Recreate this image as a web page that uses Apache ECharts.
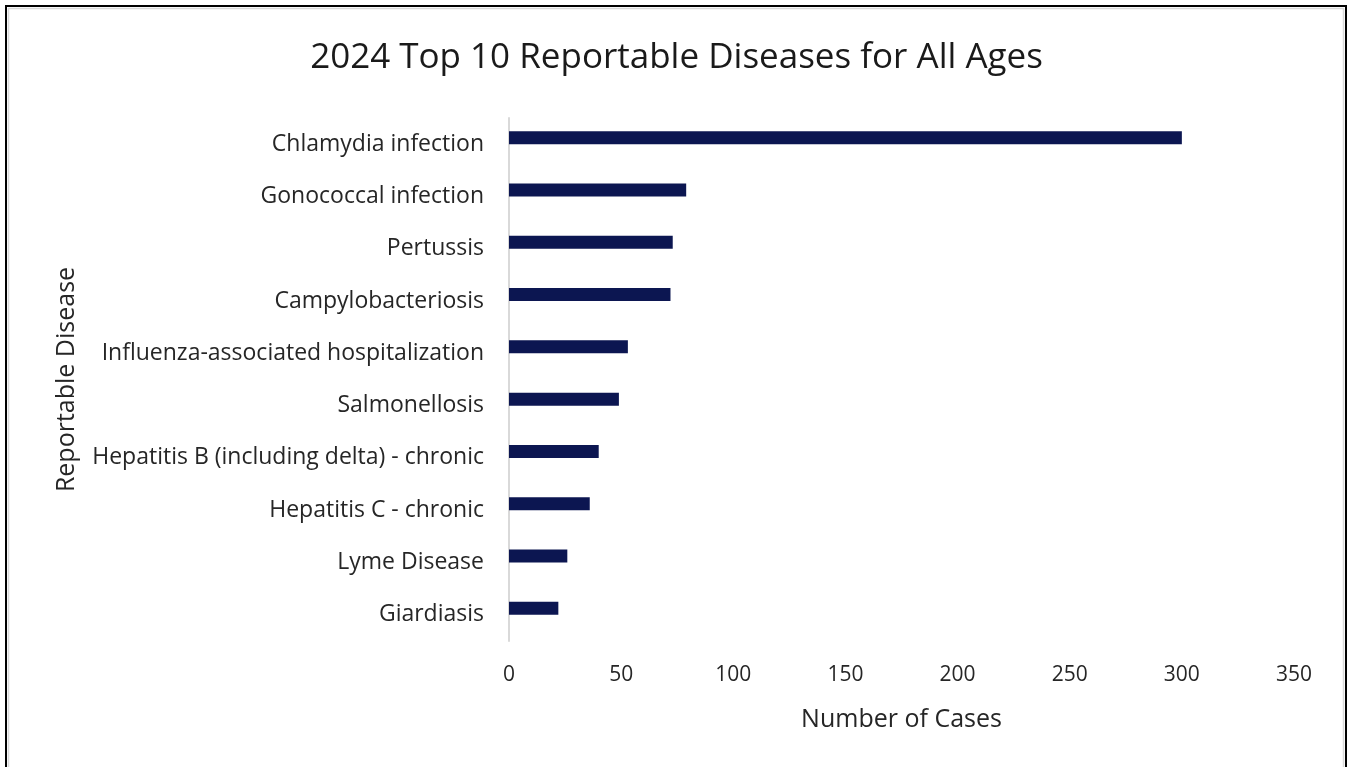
<!DOCTYPE html>
<html>
<head>
<meta charset="utf-8">
<title>2024 Top 10 Reportable Diseases</title>
<script src="https://cdn.jsdelivr.net/npm/echarts@6/dist/echarts.min.js"></script>
<style>
  html, body { margin: 0; padding: 0; background: #fff; }
  #chart { width: 1353px; height: 767px; }
</style>
</head>
<body>
<div id="chart"></div>
<script>
// data
const diseases = [
  'Chlamydia infection',
  'Gonococcal infection',
  'Pertussis',
  'Campylobacteriosis',
  'Influenza-associated hospitalization',
  'Salmonellosis',
  'Hepatitis B (including delta) - chronic',
  'Hepatitis C - chronic',
  'Lyme Disease',
  'Giardiasis'
];
const cases = [300, 79, 73, 72, 53, 49, 40, 36, 26, 22];
const xTicks = [0, 50, 100, 150, 200, 250, 300, 350];

const textColor = '#262626';
const fontFamily = '"Open Sans", "Noto Sans", sans-serif';

const myChart = echarts.init(document.getElementById('chart'));

const option = {
  backgroundColor: '#fff',
  textStyle: { fontFamily: fontFamily },
  title: {
    text: '2024 Top 10 Reportable Diseases for All Ages',
    left: 'center',
    top: 36,
    textStyle: { fontSize: 35, fontWeight: 'normal', color: '#1a1a1a', fontFamily: fontFamily }
  },
  graphic: [
    {
      type: 'rect',
      shape: { x: 6, y: 6, width: 1340, height: 800 },
      style: { fill: 'none', stroke: '#000', lineWidth: 2 },
      silent: true
    },
    {
      type: 'rect',
      shape: { x: 8.5, y: 8.5, width: 1335, height: 800 },
      style: { fill: 'none', stroke: '#d9d9d9', lineWidth: 1.5 },
      silent: true
    }
  ],
  grid: {
    left: 509,
    right: 59,
    top: 118,
    bottom: 126,
    containLabel: false
  },
  xAxis: {
    type: 'value',
    min: xTicks[0],
    max: xTicks[xTicks.length - 1],
    interval: xTicks[1] - xTicks[0],
    name: 'Number of Cases',
    nameLocation: 'middle',
    nameGap: 66,
    nameTextStyle: { fontSize: 25, color: textColor },
    axisLine: { show: false },
    axisTick: { show: false },
    splitLine: { show: false },
    axisLabel: { fontSize: 21, color: textColor, margin: 24 }
  },
  yAxis: {
    type: 'category',
    inverse: true,
    data: diseases,
    name: 'Reportable Disease',
    nameLocation: 'middle',
    nameGap: 430,
    nameRotate: 90,
    nameTextStyle: { fontSize: 25, color: textColor },
    axisLine: { show: true, lineStyle: { color: '#d9d9d9', width: 2 } },
    axisTick: { show: false },
    axisLabel: { fontSize: 23, color: textColor, margin: 25, padding: [10, 0, 0, 0] }
  },
  series: [
    {
      name: 'Cases',
      type: 'bar',
      data: cases,
      barWidth: 13,
      barGap: '0%',
      itemStyle: { color: '#0c1651' }
    },
    {
      // empty companion series, keeps bars slightly above band centre as in the source
      name: 'spacer',
      type: 'bar',
      data: [],
      barWidth: 13
    }
  ]
};

myChart.setOption(option);
</script>
</body>
</html>
